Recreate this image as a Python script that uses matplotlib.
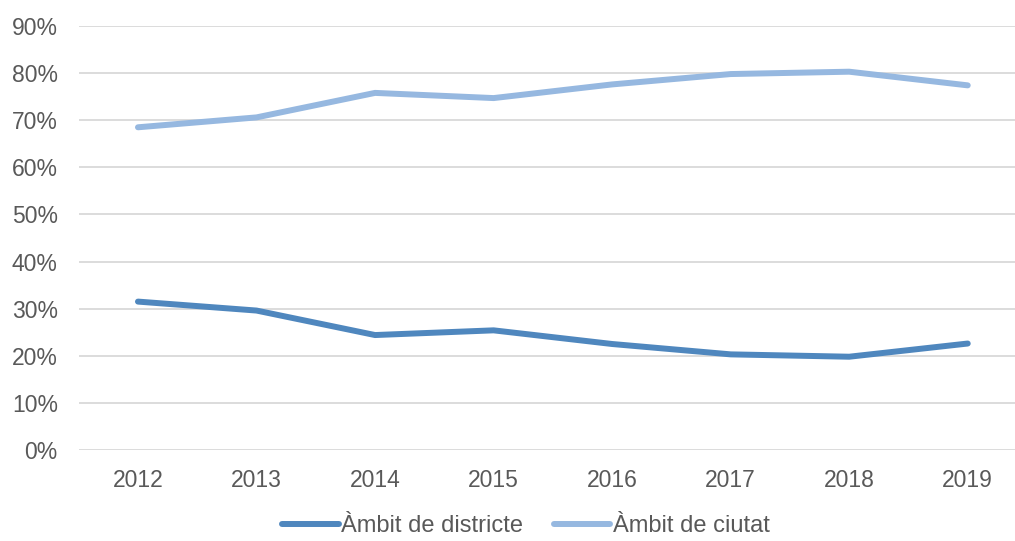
import matplotlib.pyplot as plt
from matplotlib.ticker import PercentFormatter

years = ['2012', '2013', '2014', '2015', '2016', '2017', '2018', '2019']
districte = [31.5, 29.6, 24.4, 25.4, 22.5, 20.3, 19.8, 22.6]
ciutat = [68.5, 70.6, 75.8, 74.7, 77.6, 79.8, 80.3, 77.4]
labels = ['Àmbit de districte', 'Àmbit de ciutat']

plt.rcParams['font.family'] = ['Liberation Sans', 'DejaVu Sans']
grey = '#595959'

W, H = 1015, 541
fig = plt.figure(figsize=(W / 100, H / 100), dpi=100)
# plot area in pixels
left, right, bottom, top = 78.7, 1027, 450, 26
ax = fig.add_axes([left / W, (H - bottom) / H, (right - left) / W, (bottom - top) / H])

x = range(len(years))
ax.plot(x, districte, color='#4F87BE', lw=4.3, solid_capstyle='round', label=labels[0])
ax.plot(x, ciutat, color='#96B8E0', lw=4.3, solid_capstyle='round', label=labels[1])

ax.set_xlim(-0.5, len(years) - 0.5)
ax.set_ylim(0, 90)
ax.set_yticks(range(0, 91, 10))
ax.yaxis.set_major_formatter(PercentFormatter(decimals=0))
ax.set_xticks(list(x))
ax.set_xticklabels(years)
ax.grid(axis='y', color='#D9D9D9', lw=1.3)
ax.set_axisbelow(True)
for s in ax.spines.values():
    s.set_visible(False)
ax.tick_params(length=0, labelsize=16.5, colors=grey)
ax.tick_params(axis='y', pad=15)
ax.tick_params(axis='x', pad=14)

fig.legend(loc='center', bbox_to_anchor=(0.518, 1 - 526 / H), ncol=2, frameon=False,
           fontsize=17, labelcolor=grey, handlelength=2.4, handletextpad=0.1,
           columnspacing=1.3)

fig.savefig('out.png', dpi=100)
